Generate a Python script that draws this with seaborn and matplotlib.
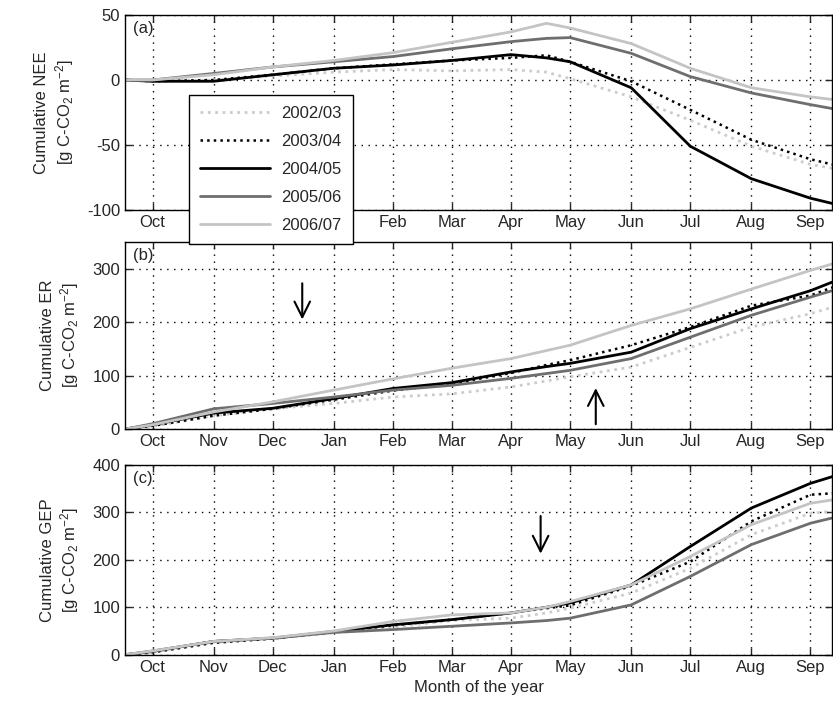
import numpy as np
import pandas as pd
import matplotlib
matplotlib.use("Agg")
import matplotlib.pyplot as plt
import seaborn as sns

# days since 1 October (water year), sampled roughly twice a month
days = [0, 14, 45, 75, 106, 136, 166, 196, 214, 226, 257, 287, 318, 348, 359]
years = ["2002/03", "2003/04", "2004/05", "2005/06", "2006/07"]

# (a) cumulative NEE
nee_0203 = [0, -1, 0, 3, 6, 8, 7, 8, 6, 1, -13, -31, -51, -65, -68]
nee_0304 = [0, -1, 0, 4, 9, 12, 15, 17, 19, 14, -1, -23, -46, -61, -65]
nee_0405 = [0, -1, -1, 4, 9, 11.5, 15, 19.5, 17, 14, -6, -51, -76, -91, -95]
nee_0506 = [0, 0, 5, 10, 14, 18, 24, 29.5, 32, 32.6, 20.5, 2.6, -10, -19, -22]
nee_0607 = [0, 0, 4, 10, 15, 21, 29, 37, 43.6, 40, 28, 9, -6, -13, -15]

# (b) cumulative ER
er_0203 = [0, 5, 25, 38, 48, 60, 66, 79, 90, 98, 116, 153, 191, 216, 228]
er_0304 = [0, 6, 25, 38, 55, 72, 85, 105, 120, 129, 157, 191, 231, 250, 265]
er_0405 = [0, 8, 30, 39, 57, 76, 87, 107, 117, 123, 144, 188, 225, 259, 275]
er_0506 = [0, 10, 38, 48, 60, 73, 82, 95, 104, 110, 132, 172, 213, 247, 259]
er_0607 = [0, 8, 32, 51, 73, 94, 114, 132, 147, 157, 194, 225, 262, 297, 309]

# (c) cumulative GEP
gep_0203 = [0, 6, 26, 34, 46, 58, 72, 77, 88, 98, 130, 182, 253, 298, 302]
gep_0304 = [0, 5, 25, 34, 48, 62, 74, 88, 98, 104, 145, 196, 281, 337, 340]
gep_0405 = [0, 7, 28, 35, 49, 63, 74, 88, 100, 109, 147, 228, 309, 361, 375]
gep_0506 = [0, 8, 28, 35, 47, 53, 60, 67, 72, 77, 105, 165, 232, 277, 288]
gep_0607 = [0, 8, 28, 36, 50, 70, 84, 88, 100, 112, 147, 207, 274, 319, 326]

month_ticks = [14, 45, 75, 106, 136, 166, 196, 226, 257, 287, 318, 348]
month_labels = ["Oct", "Nov", "Dec", "Jan", "Feb", "Mar", "Apr", "May",
                "Jun", "Jul", "Aug", "Sep"]

sns.set_style("ticks")
plt.rcParams["font.family"] = ["Liberation Sans", "DejaVu Sans"]
plt.rcParams["mathtext.fontset"] = "custom"
plt.rcParams["mathtext.rm"] = "Liberation Sans"
plt.rcParams["mathtext.it"] = "Liberation Sans"
plt.rcParams["mathtext.default"] = "regular"
plt.rcParams["axes.unicode_minus"] = False

styles = {
    "2002/03": dict(color="#cccccc", linestyle=":", lw=2.0),
    "2003/04": dict(color="black", linestyle=":", lw=1.8),
    "2004/05": dict(color="black", linestyle="-", lw=2.0),
    "2005/06": dict(color="#6e6e6e", linestyle="-", lw=2.0),
    "2006/07": dict(color="#c4c4c4", linestyle="-", lw=2.0),
}

panels = [
    ("(a)", "Cumulative NEE\n[g C-CO$_2$ m$^{-2}$]",
     [nee_0203, nee_0304, nee_0405, nee_0506, nee_0607], (-100, 50), [-100, -50, 0, 50]),
    ("(b)", "Cumulative ER\n[g C-CO$_2$ m$^{-2}$]",
     [er_0203, er_0304, er_0405, er_0506, er_0607], (0, 350), [0, 100, 200, 300]),
    ("(c)", "Cumulative GEP\n[g C-CO$_2$ m$^{-2}$]",
     [gep_0203, gep_0304, gep_0405, gep_0506, gep_0607], (0, 400), [0, 100, 200, 300, 400]),
]

fig = plt.figure(figsize=(8.33, 7.14), dpi=100)
rects = [[0.150, 0.706, 0.849, 0.273],
         [0.150, 0.399, 0.849, 0.262],
         [0.150, 0.083, 0.849, 0.266]]

axes = []
for rect, (tag, ylab, series, ylim, yticks) in zip(rects, panels):
    ax = fig.add_axes(rect)
    for yr, vals in zip(years, series):
        df = pd.DataFrame({"day": days, "val": vals})
        sns.lineplot(data=df, x="day", y="val", ax=ax, label=yr, legend=False,
                     **styles[yr])
    ax.set_xlim(0, 359)
    ax.set_ylim(*ylim)
    ax.set_yticks(yticks)
    ax.set_xticks(month_ticks)
    ax.set_xticklabels(month_labels)
    ax.grid(True, color="black", linestyle=(0, (1, 4)), lw=1.0)
    ax.tick_params(direction="in", top=True, right=True, labelsize=12,
                   length=5, width=1)
    for s in ax.spines.values():
        s.set_linewidth(1.0)
        s.set_color("black")
    ax.set_xlabel("")
    ax.set_ylabel(ylab, fontsize=12, labelpad=8)
    ax.text(0.012, 0.97, tag, transform=ax.transAxes, fontsize=12, va="top")
    axes.append(ax)

axes[2].set_xlabel("Month of the year", fontsize=12)

arrow = dict(arrowstyle="->", color="black", lw=1.5, mutation_scale=28)
axes[1].annotate("", xy=(90, 200), xytext=(90, 278), arrowprops=arrow)
axes[1].annotate("", xy=(239, 82), xytext=(239, 4), arrowprops=arrow)
axes[2].annotate("", xy=(211, 207), xytext=(211, 298), arrowprops=arrow)

handles, labels = axes[0].get_legend_handles_labels()
leg = fig.legend(handles, labels, loc="upper left", bbox_to_anchor=(0.227, 0.867),
                 fontsize=12, handlelength=4.2, labelspacing=0.78,
                 fancybox=False, framealpha=1, edgecolor="black",
                 borderpad=0.65, handletextpad=0.7, borderaxespad=0)
leg.get_frame().set_linewidth(1.0)

fig.savefig("out.png", dpi=100)
